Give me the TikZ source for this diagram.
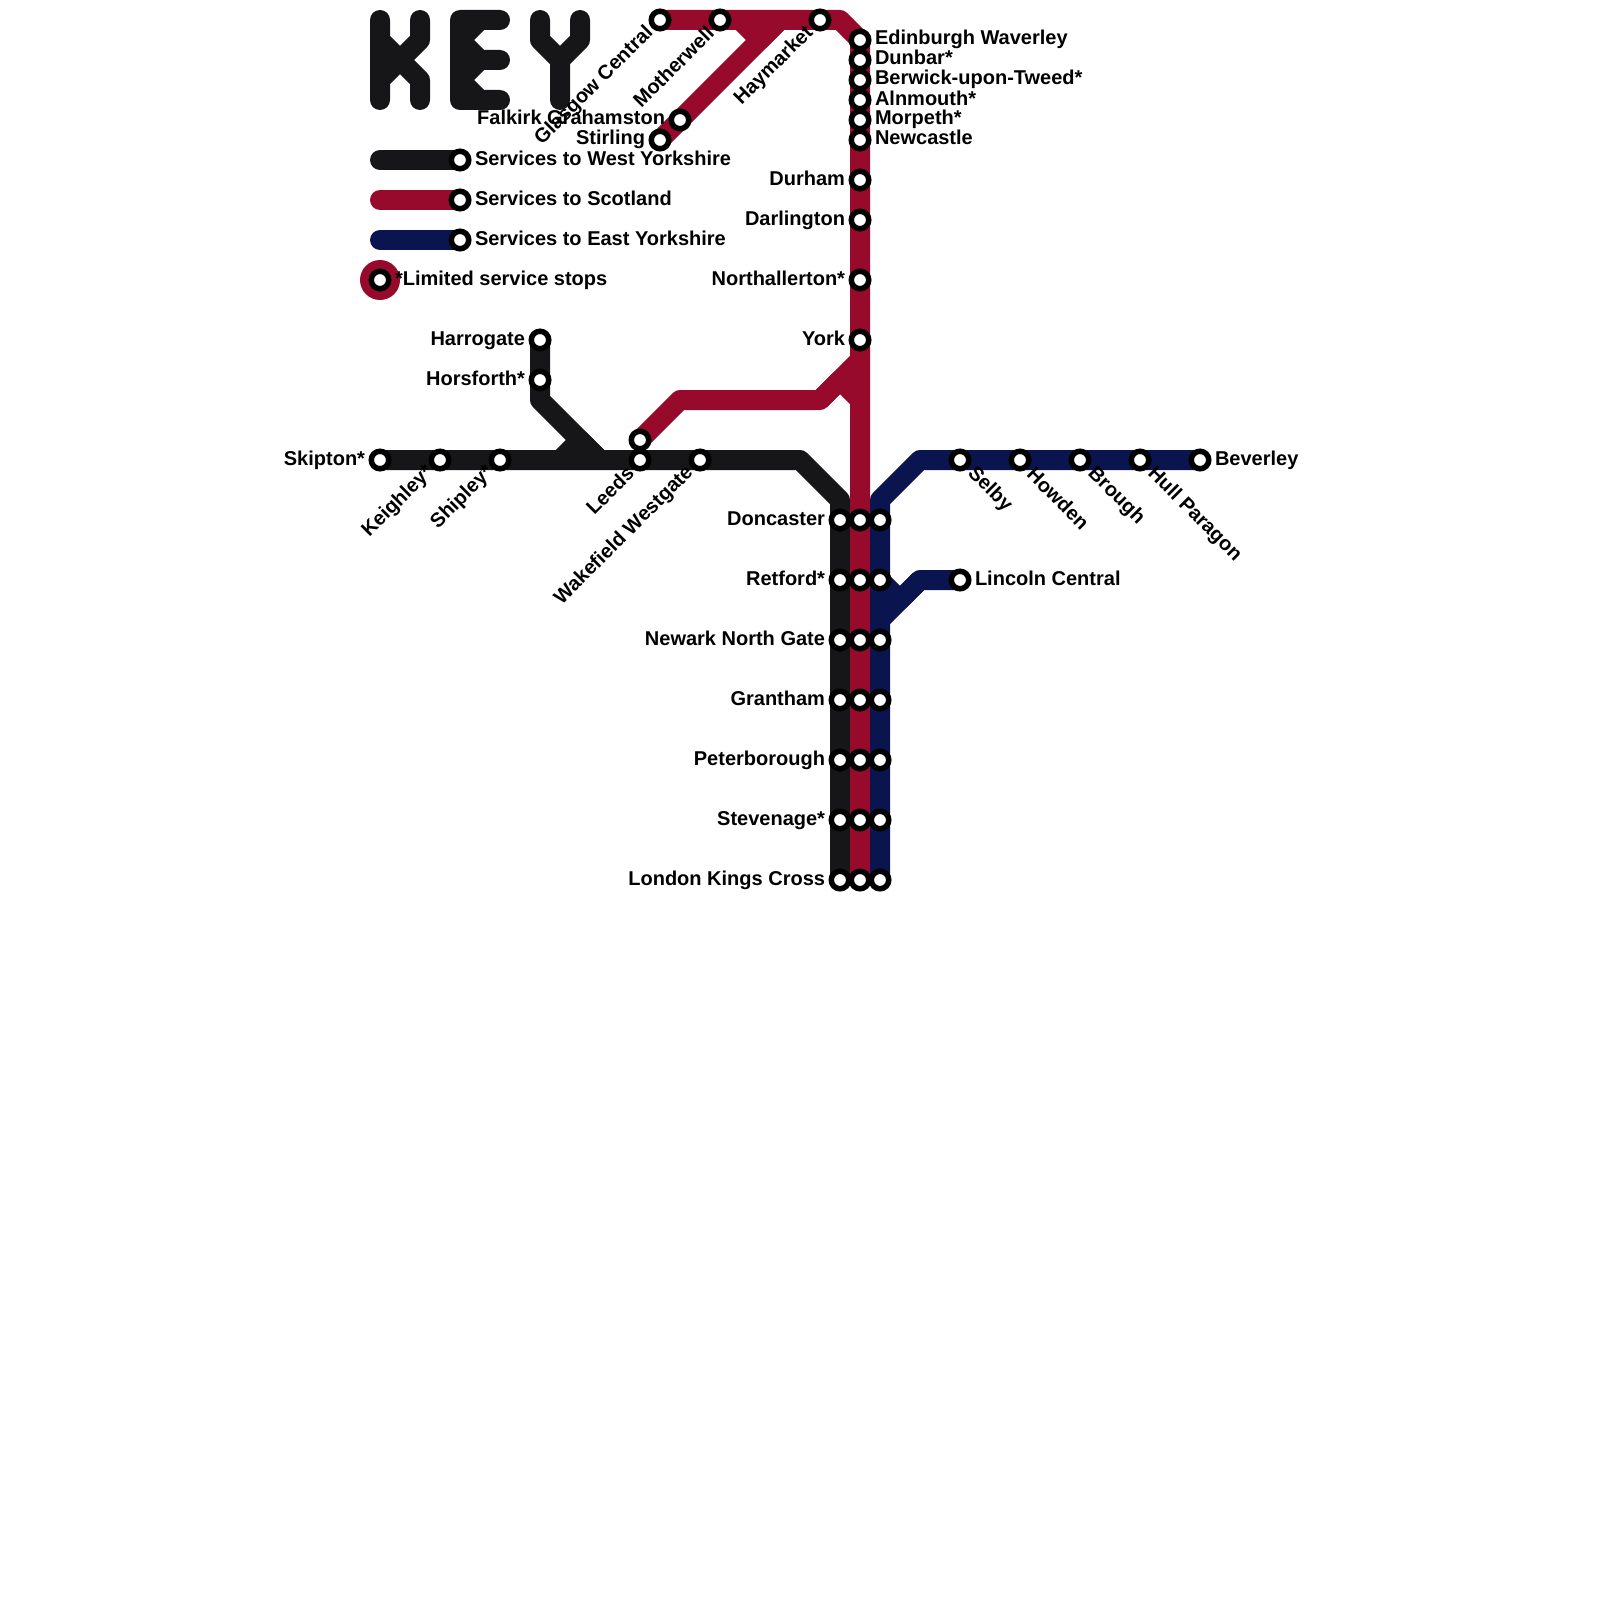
\documentclass[tikz,border=0pt]{standalone}
\usepackage{fontspec}
\setmainfont{Liberation Sans}
\definecolor{lblack}{HTML}{161618}
\definecolor{lred}{HTML}{970A2C}
\definecolor{lblue}{HTML}{0A154F}
\tikzset{
 x=0.5pt,y=-0.5pt,
 route/.style={line width=10pt,line join=round,line cap=round},
 tube/.style={line width=10pt,line join=round,line cap=butt},
 stn/.style={circle,draw=black,fill=white,line width=2.75pt,minimum size=8.75pt,inner sep=0pt,outer sep=0pt},
 txt/.style={font=\bfseries\fontsize{10}{10}\selectfont,text=black,inner sep=0pt,outer sep=0pt},
 lr/.style={txt,anchor=base west,xshift=7.5pt,yshift=-2.5pt},
 ll/.style={txt,anchor=base east,xshift=-7.5pt,yshift=-2.5pt},
 rotl/.style={txt,xshift=-4.9pt,yshift=-4.9pt,rotate=45,anchor=east},
 rotr/.style={txt,xshift=5.4pt,yshift=-5.4pt,rotate=-45,anchor=west},
}
\begin{document}
\begin{tikzpicture}
\useasboundingbox (0,0) rectangle (1600,1600);
\fill[white] (0,0) rectangle (1600,1600);
% waypoints
\foreach \n/\x/\y in {
 kA/380/20,kB/380/100,kC/420/20,kD/420/40,kE/400/60,kF/420/80,kG/420/100,kH/380/40,kI/380/80,
 eA/460/20,eB/500/20,eC/460/100,eD/500/100,eE/460/60,eF/500/60,eG/480/20,eH/460/40,eI/480/60,eJ/460/80,eK/480/100,
 yA/540/20,yB/540/40,yC/560/60,yD/560/100,yE/580/20,yF/580/40,
 bA/800/460,bB/840/500,bC/540/400,bD/600/460,bE/560/460,bF/580/440,
 rA/840/20,rB/740/20,rC/760/40,rD/780/20,rE/680/400,rF/820/400,rG/840/380,rH/860/400,rI/860/360,
 uA/920/460,uB/880/500,uC/920/580,uD/880/620,uE/900/600,
 lgA/380/160,lgB/380/200,lgC/380/240,
 cglasgow/660/20,cmotherwell/720/20,chaymarket/820/20,cedinburgh/860/40,cdunbar/860/60,cberwick/860/80,calnmouth/860/100,cmorpeth/860/120,cnewcastle/860/140,
 cdurham/860/180,cdarlington/860/220,cnorthallerton/860/280,cyork/860/340,
 cfalkirk/680/120,cstirling/660/140,
 charrogate/540/340,chorsforth/540/380,
 cskipton/380/460,ckeighley/440/460,cshipley/500/460,cleedsb/640/460,cleedsr/640/440,cwakefield/700/460,
 cselby/960/460,chowden/1020/460,cbrough/1080/460,chull/1140/460,cbeverley/1200/460,clincoln/960/580,
 cdonb/840/520,cdonr/860/520,cdonu/880/520,
 cretb/840/580,cretr/860/580,cretu/880/580,
 cnewb/840/640,cnewr/860/640,cnewu/880/640,
 cgrab/840/700,cgrar/860/700,cgrau/880/700,
 cpetb/840/760,cpetr/860/760,cpetu/880/760,
 csteb/840/820,cster/860/820,csteu/880/820,
 clonb/840/880,clonr/860/880,clonu/880/880,
 ckwest/460/160,ckscot/460/200,ckeast/460/240,cklim/380/280}{\coordinate (\n) at (\x,\y);}
% KEY letters
\draw[route,lblack] (kA)--(kB) (kC)--(kD)--(kE)--(kF)--(kG) (kH)--(kE)--(kI);
\draw[route,lblack] (eB)--(eA)--(eC)--(eD) (eE)--(eF) (eG)--(eH)--(eI)--(eJ)--(eK);
\draw[route,lblack] (yA)--(yB)--(yC)--(yD) (yE)--(yF)--(yC);
% legend
\draw[route,lblack] (lgA)--(ckwest);
\draw[route,lred] (lgB)--(ckscot);
\draw[route,lblue] (lgC)--(ckeast);
\fill[lred] (cklim) circle[radius=10pt];
% black
\draw[tube,lblack] (cskipton)--(bA)--(bB)--(clonb);
\draw[tube,lblack] (bE)--(bF)--(bD);
\draw[tube,lblack] (charrogate)--(bC)--(bD);
% red
\draw[tube,lred] (cglasgow)--(rA)--(cedinburgh)--(clonr);
\draw[tube,lred] (rB)--(rC)--(rD);
\draw[tube,lred] (cstirling)--(rD);
\draw[tube,lred] (cleedsr)--(rE)--(rF)--(rG)--(rH);
\draw[tube,lred] (rF)--(rI);
% blue
\draw[tube,lblue] (cbeverley)--(uA)--(uB)--(clonu);
\draw[tube,lblue] (clincoln)--(uC)--(uD);
\draw[tube,lblue] (cretu)--(uE)--(uC);
% stations
\foreach \n in {glasgow,motherwell,haymarket,edinburgh,dunbar,berwick,alnmouth,morpeth,newcastle,durham,darlington,northallerton,york,falkirk,stirling,harrogate,horsforth,skipton,keighley,shipley,leedsb,leedsr,wakefield,selby,howden,brough,hull,beverley,lincoln,donb,donr,donu,retb,retr,retu,newb,newr,newu,grab,grar,grau,petb,petr,petu,steb,ster,steu,lonb,lonr,lonu,kwest,kscot,keast,klim}{\node[stn] (\n) at (c\n) {};}
% labels
\node[lr] (Ledinburgh) at (edinburgh.center) {Edinburgh Waverley};
\node[lr] (Ldunbar) at (dunbar.center) {Dunbar*};
\node[lr] (Lberwick) at (berwick.center) {Berwick-upon-Tweed*};
\node[lr] (Lalnmouth) at (alnmouth.center) {Alnmouth*};
\node[lr] (Lmorpeth) at (morpeth.center) {Morpeth*};
\node[lr] (Lnewcastle) at (newcastle.center) {Newcastle};
\node[ll] (Ldurham) at (durham.center) {Durham};
\node[ll] (Ldarlington) at (darlington.center) {Darlington};
\node[ll] (Lnorth) at (northallerton.center) {Northallerton*};
\node[ll] (Lyork) at (york.center) {York};
\node[ll] (Lfalkirk) at (falkirk.center) {Falkirk Grahamston};
\node[ll] (Lstirling) at (stirling.center) {Stirling};
\node[ll] (Lharrogate) at (harrogate.center) {Harrogate};
\node[ll] (Lhorsforth) at (horsforth.center) {Horsforth*};
\node[ll] (Lskipton) at (skipton.center) {Skipton*};
\node[lr] (Lbeverley) at (beverley.center) {Beverley};
\node[lr] (Llincoln) at (lincoln.center) {Lincoln Central};
\node[ll] (Ldon) at (donb.center) {Doncaster};
\node[ll] (Lret) at (retb.center) {Retford*};
\node[ll] (Lnew) at (newb.center) {Newark North Gate};
\node[ll] (Lgra) at (grab.center) {Grantham};
\node[ll] (Lpet) at (petb.center) {Peterborough};
\node[ll] (Lste) at (steb.center) {Stevenage*};
\node[ll] (Llon) at (lonb.center) {London Kings Cross};
\node[rotl] (Lglasgow) at (glasgow.center) {Glasgow Central};
\node[rotl] (Lmotherwell) at (motherwell.center) {Motherwell};
\node[rotl] (Lhaymarket) at (haymarket.center) {Haymarket};
\node[rotl] (Lkeighley) at (keighley.center) {Keighley*};
\node[rotl] (Lshipley) at (shipley.center) {Shipley*};
\node[rotl] (Lleeds) at (leedsb.center) {Leeds};
\node[rotl] (Lwakefield) at (wakefield.center) {Wakefield Westgate};
\node[rotr] (Lselby) at (selby.center) {Selby};
\node[rotr] (Lhowden) at (howden.center) {Howden};
\node[rotr] (Lbrough) at (brough.center) {Brough};
\node[rotr] (Lhull) at (hull.center) {Hull Paragon};
\node[lr] (Lwest) at (kwest.center) {Services to West Yorkshire};
\node[lr] (Lscot) at (kscot.center) {Services to Scotland};
\node[lr] (Least) at (keast.center) {Services to East Yorkshire};
\node[lr] (Llim) at (klim.center) {*Limited service stops};
\end{tikzpicture}
\end{document}
